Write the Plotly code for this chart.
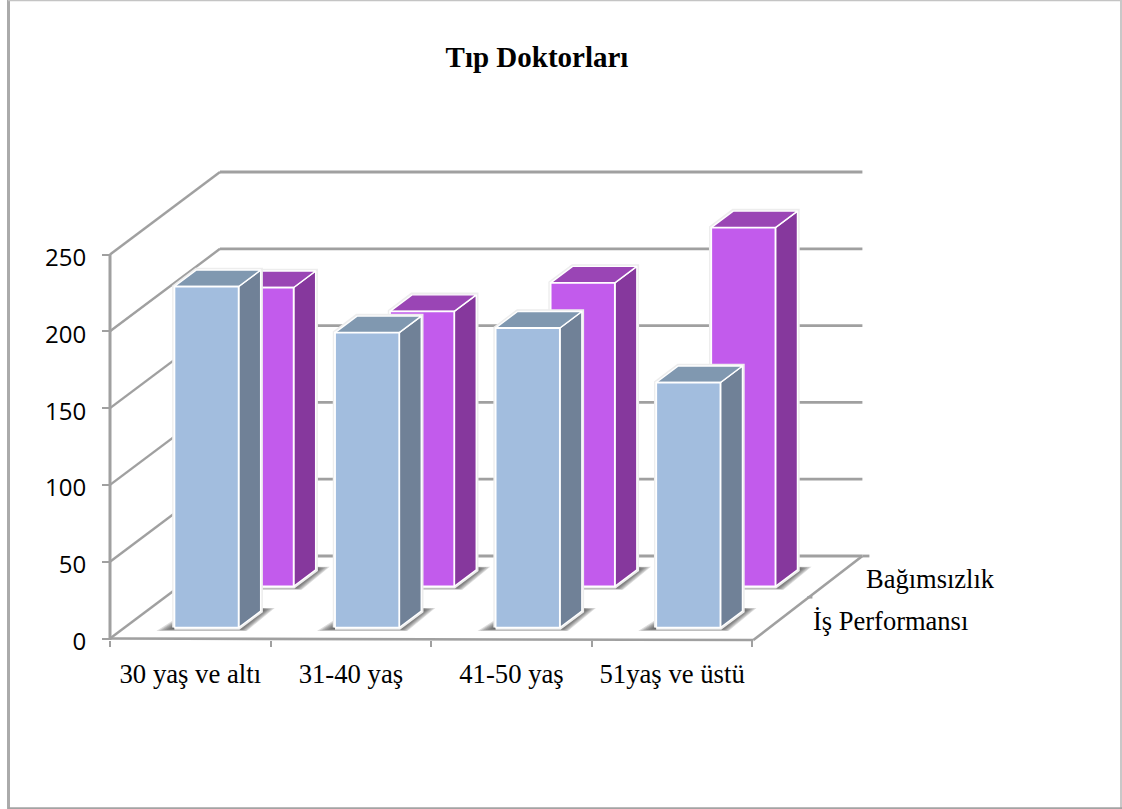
import plotly.graph_objects as go

# Chart content
title = "Tıp Doktorları"
age_groups = ["30 yaş ve altı", "31-40 yaş", "41-50 yaş", "51yaş ve üstü"]
is_performansi = [222, 192, 195, 159.5]
bagimsizlik = [194.5, 179, 197.5, 233.5]
y_ticks = [0, 50, 100, 150, 200, 250]

# Page and oblique-projection settings (pixels per axis unit)
W, H = 1122, 809
ORIGIN_X, ORIGIN_Y = 110.0, 638.5
PX_PER_CAT = 160.6
PX_PER_VAL = 1.536
DEPTH_DX, DEPTH_DY = 110.0, 82.5

BAR_START, BAR_WIDTH = 0.31, 0.40
BAR_DEPTH = 0.2
SERIES_DEPTH = {0: 0.133, 1: 0.633}

AXIS_GREY = "#A0A0A0"


def project(cat, val, depth=0.0, dx=0.0, dy=0.0):
    """Map category/value/depth plus a pixel nudge to axis coordinates."""
    return (cat + (depth * DEPTH_DX + dx) / PX_PER_CAT,
            val + (depth * DEPTH_DY - dy) / PX_PER_VAL)


def polygon(points, fill, line="rgba(0,0,0,0)", width=0):
    xs = [p[0] for p in points] + [points[0][0]]
    ys = [p[1] for p in points] + [points[0][1]]
    return go.Scatter(x=xs, y=ys, mode="lines", fill="toself", fillcolor=fill,
                      line=dict(color=line, width=width), hoverinfo="skip",
                      showlegend=False)


def segments(pairs, width=2.4, color=AXIS_GREY):
    xs, ys = [], []
    for a, b in pairs:
        xs += [a[0], b[0], None]
        ys += [a[1], b[1], None]
    return go.Scatter(x=xs, y=ys, mode="lines", hoverinfo="skip", showlegend=False,
                      line=dict(color=color, width=width))


def add_bar(fig, index, value, series, colors):
    d0 = SERIES_DEPTH[series]
    d1 = d0 + BAR_DEPTH
    x0 = index + BAR_START
    x1 = x0 + BAR_WIDTH

    # soft floor shadow, built up from translucent layers
    fl, fr, br = (x0, d0), (x1, d0), (x1, d1)
    for t in (1.0, 0.86, 0.72, 0.58, 0.44, 0.3, 0.16):
        fig.add_trace(polygon([
            project(fl[0], 0, fl[1], -18 * t, 1 + 2.5 * t),
            project(fr[0], 0, fr[1], 8 * t, 1 + 2.5 * t),
            project(br[0], 0, br[1], 14 * t, -3 * t),
            project(br[0], 0, br[1], 0, -3),
            project(fr[0], 0, fr[1]),
            project(fl[0], 0, fl[1]),
            project(fl[0], 0, fl[1], 0, -8 * t),
        ], "rgba(60,60,60,0.18)"))

    silhouette = [project(x0, 0, d0), project(x1, 0, d0), project(x1, 0, d1),
                  project(x1, value, d1), project(x0, value, d1), project(x0, value, d0)]
    fig.add_trace(polygon(silhouette, "#FFFFFF", "#EDEDED", 4.5))

    side = [project(x1, 0, d0), project(x1, 0, d1), project(x1, value, d1), project(x1, value, d0)]
    top = [project(x0, value, d0), project(x1, value, d0), project(x1, value, d1), project(x0, value, d1)]
    front = [project(x0, 0, d0), project(x1, 0, d0), project(x1, value, d0), project(x0, value, d0)]
    fig.add_trace(polygon(side, colors["side"], "#FFFFFF", 1.4))
    fig.add_trace(polygon(top, colors["top"], "#FFFFFF", 1.4))
    fig.add_trace(polygon(front, colors["front"], "#FFFFFF", 1.8))


fig = go.Figure()

# Back wall gridlines, left wall diagonals and floor edges
n_cat = len(age_groups)
fig.add_trace(segments([(project(0, v, 1), project(n_cat, v, 1)) for v in y_ticks], 2.8))
fig.add_trace(segments([(project(0, v, 0), project(0, v, 1)) for v in y_ticks], 2.4))
fig.add_trace(segments([(project(n_cat, 0, 1), project(n_cat, 0, 1, 7, 0))], 2.8))

PURPLE = dict(front="#C25BEC", side="#86389D", top="#9A45B5")
BLUE = dict(front="#A2BDDE", side="#708197", top="#8098B0")

# Axis frame, below the bars
fig.add_trace(segments([
    (project(0, 0), project(n_cat, 0, 0, 1, 1.5)),
    (project(n_cat, 0, 0, 1, 1.5), project(n_cat, 0, 1)),
    (project(n_cat, 0, 0.5), project(n_cat, 0, 0.5, 5, 0)),
], 2.6))
fig.add_trace(segments([(project(0, 0, 0, 0, 1.5), project(0, y_ticks[-1]))], 3))

for i, v in enumerate(bagimsizlik):
    add_bar(fig, i, v, 1, PURPLE)
for i, v in enumerate(is_performansi):
    add_bar(fig, i, v, 0, BLUE)

# Depth-axis series names
annotations = [
    dict(x=project(n_cat, 0, d)[0], y=project(n_cat, 0, d)[1], xref="x", yref="y",
         text=name, showarrow=False, xanchor="left", yanchor="middle",
         xshift=xs, yshift=ys,
         font=dict(family="Liberation Serif", size=26.5, color="#000000"))
    for d, name, xs, ys in ((0.25, "İş Performansı", 31, -3), (0.75, "Bağımsızlık", 29, -2))
]

# Outer frame
frame = [
    dict(x0=8.5 / W, x1=8.5 / W, y0=0, y1=1, width=3, color="#ABABAB"),
    dict(x0=8 / W, x1=1, y0=1, y1=1, width=2.5, color="#C4C4C4"),
    dict(x0=1121 / W, x1=1121 / W, y0=0, y1=1, width=2, color="#C8C8C8"),
    dict(x0=8 / W, x1=1, y0=0.5 / H, y1=0.5 / H, width=2.5, color="#A3A3A3"),
]
shapes = [dict(type="line", xref="paper", yref="paper", x0=f["x0"], x1=f["x1"],
               y0=f["y0"], y1=f["y1"], line=dict(color=f["color"], width=f["width"]))
          for f in frame]

fig.update_layout(
    width=W, height=H, margin=dict(l=0, r=0, t=0, b=0),
    paper_bgcolor="#FFFFFF", plot_bgcolor="rgba(0,0,0,0)", showlegend=False,
    title=dict(text="<b>%s</b>" % title, x=537 / W, xanchor="center", xref="paper",
               y=1 - 57 / H, yref="paper", yanchor="middle",
               font=dict(family="Liberation Serif", size=29, color="#000000")),
    annotations=annotations, shapes=shapes,
    xaxis=dict(range=[-ORIGIN_X / PX_PER_CAT, (W - ORIGIN_X) / PX_PER_CAT],
               anchor="free", position=(H - 640) / H, domain=[0, 1],
               tickmode="array", tickvals=[i + 0.5 for i in range(n_cat)], ticktext=age_groups,
               ticks="", ticklabelstandoff=15, showgrid=False, zeroline=False, showline=False,
               tickfont=dict(family="Liberation Serif", size=26.7, color="#000000"),
               minor=dict(tickmode="array", tickvals=list(range(n_cat + 1)), ticks="outside",
                          ticklen=6, tickwidth=2, tickcolor=AXIS_GREY, showgrid=False)),
    yaxis=dict(range=[(ORIGIN_Y - H) / PX_PER_VAL, ORIGIN_Y / PX_PER_VAL],
               anchor="free", position=ORIGIN_X / W, domain=[0, 1],
               tickmode="array", tickvals=y_ticks, ticks="outside", ticklen=8, tickwidth=2,
               tickcolor=AXIS_GREY, ticklabelstandoff=11, ticklabelshift=3,
               showgrid=False, zeroline=False, showline=False,
               tickfont=dict(family="Open Sans", size=24, color="#000000")),
)

fig.write_html("out.html")
